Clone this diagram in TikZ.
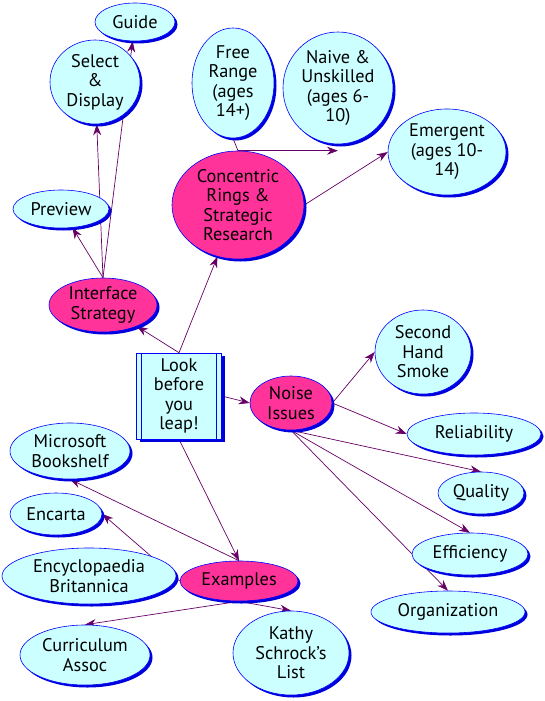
\documentclass[tikz,border=0pt]{standalone}
\usepackage{fontspec}
\setmainfont{PT Sans}
\usetikzlibrary{positioning,arrows.meta,shapes.geometric,shadows,backgrounds}
\usepackage{xcolor}
\definecolor{idea}{HTML}{CCFFFF}
\definecolor{topic}{HTML}{FF3399}
\definecolor{rim}{HTML}{0000FF}
\definecolor{shade}{HTML}{0000DD}
\definecolor{linkc}{HTML}{660066}

\tikzset{
  bubble/.style={ellipse,draw=rim,line width=0.6pt,inner sep=0pt,align=center,
    font=\fontsize{18.3}{19.5}\selectfont,
    drop shadow={shadow xshift=2.5pt,shadow yshift=-2.5pt,fill=shade,opacity=1}},
  idea/.style={bubble,fill=idea},
  topic/.style={bubble,fill=topic},
  link/.style={draw=linkc,line width=0.7pt,-{Stealth[length=11pt,width=8pt]}},
}

\begin{document}
\begin{tikzpicture}[x=1pt,y=-1pt]
  \useasboundingbox (0,0) rectangle (545,701);

  % upper left branch
  \node[idea,minimum width=90pt,minimum height=84pt] (select) at (95,82) {Select\\\&\\Display};
  \node[idea,minimum width=80pt,minimum height=38pt] (guide) at (135,22) {Guide};
  \node[idea,minimum width=96pt,minimum height=38pt] (preview) at (61,209) {Preview};
  \node[topic,minimum width=108pt,minimum height=54pt] (interface) at (103,305) {Interface\\Strategy};

  % upper right branch
  \node[idea,minimum width=82pt,minimum height=110pt] (freerange) at (233,83) {Free\\Range\\(ages\\14+)};
  \node[idea,minimum width=110pt,minimum height=112pt] (naive) at (338,88) {Naive \&\\Unskilled\\(ages 6-\\10)};
  \node[idea,minimum width=118pt,minimum height=86pt] (emergent) at (447,152) {Emergent\\(ages 10-\\14)};
  \node[topic,minimum width=132pt,minimum height=108pt] (concentric) at (238,205) {Concentric\\Rings \&\\Strategic\\Research};

  % centre
  \node[draw=rim,fill=idea,line width=0.6pt,minimum width=85pt,minimum height=86pt,inner sep=0pt,
    align=center,font=\fontsize{18.3}{19.5}\selectfont,
    drop shadow={shadow xshift=3pt,shadow yshift=-3pt,fill=shade,opacity=1}] (look) at (179,396) {Look\\before\\you\\leap!};
  \draw[rim,line width=0.6pt] ([xshift=5.5pt]look.north west) -- ([xshift=5.5pt]look.south west);
  \draw[rim,line width=0.6pt] ([xshift=-6pt]look.north east) -- ([xshift=-6pt]look.south east);

  % right branch
  \node[topic,minimum width=82pt,minimum height=54pt] (noise) at (291,403) {Noise\\Issues};
  \node[idea,minimum width=96pt,minimum height=84pt] (smoke) at (423,352) {Second\\Hand\\Smoke};
  \node[idea,minimum width=134pt,minimum height=42pt] (reliability) at (474,434) {Reliability};
  \node[idea,minimum width=86pt,minimum height=42pt] (quality) at (481,493) {Quality};
  \node[idea,minimum width=116pt,minimum height=42pt] (efficiency) at (470,554) {Efficiency};
  \node[idea,minimum width=154pt,minimum height=42pt] (organization) at (448,612) {Organization};

  % lower branch
  \node[idea,minimum width=120pt,minimum height=56pt] (bookshelf) at (70,451) {Microsoft\\Bookshelf};
  \node[idea,minimum width=92pt,minimum height=42pt] (encarta) at (56,514) {Encarta};
  \node[idea,minimum width=174pt,minimum height=56pt] (britannica) at (89,576) {Encyclopaedia\\Britannica};
  \node[topic,minimum width=118pt,minimum height=40pt] (examples) at (239,581) {Examples};
  \node[idea,minimum width=130pt,minimum height=60pt] (curriculum) at (85,655) {Curriculum\\Assoc};
  \node[idea,minimum width=116pt,minimum height=84pt] (kathy) at (291,653) {Kathy\\Schrock's\\List};

  \begin{scope}[on background layer]
    \draw[link] (interface.north) -- (preview);
    \draw[link] (interface.north) -- (select);
    \draw[link] (interface.north) -- (guide);
    \draw[link] (look.north) -- (interface);
    \draw[link] (look.north) -- (concentric);
    \draw[draw=linkc,line width=0.7pt] (concentric.north) -- (freerange.south);
    \draw[link] (concentric.north) -- (concentric.north -| naive.south);
    \draw[link] (concentric.east) -- (emergent.west);
    \draw[link] (look.east) -- (noise.west);
    \draw[link] (look.south) -- (examples.north);
    \draw[link] (noise.east) -- (smoke.west);
    \draw[link] (noise.east) -- (reliability.west);
    \draw[link] (noise.south) -- (quality.north);
    \draw[link] (noise.south) -- (efficiency.north);
    \draw[link] (noise.south) -- (organization.north);
    \draw[link] (examples.north) -- (bookshelf.south);
    \draw[link] (examples.west) -- (encarta.east);
    \draw[link] (examples.south) -- (curriculum.north);
    \draw[link] (examples.south) -- (kathy.north);
  \end{scope}
\end{tikzpicture}
\end{document}
